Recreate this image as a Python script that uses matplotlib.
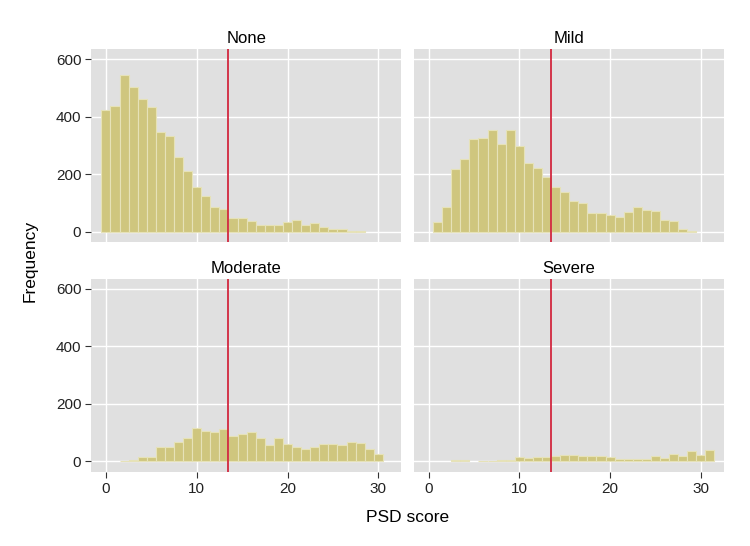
import matplotlib
matplotlib.use("Agg")
import matplotlib.pyplot as plt

plt.rcParams['font.family'] = ['Liberation Sans', 'DejaVu Sans']

# PSD score bins (width 1, centred on integers)
scores = list(range(0, 32))
groups = ["None", "Mild", "Moderate", "Severe"]
none = [421, 437, 543, 501, 462, 433, 346, 333, 258, 211, 155, 125, 86, 79, 48, 48,
        36, 24, 24, 24, 34, 41, 21, 30, 17, 7, 7, 3, 1, 0, 0, 0]
mild = [0, 34, 84, 216, 251, 322, 325, 353, 304, 353, 296, 239, 220, 189, 155, 137,
        106, 99, 66, 64, 56, 52, 68, 87, 75, 72, 41, 37, 8, 3, 0, 0]
moderate = [0, 0, 2, 4, 15, 15, 49, 49, 66, 80, 115, 106, 102, 112, 89, 94,
            103, 83, 56, 82, 60, 51, 43, 49, 61, 60, 57, 69, 64, 44, 27, 0]
severe = [0, 0, 0, 5, 5, 0, 3, 3, 4, 6, 14, 12, 16, 14, 17, 22,
          22, 17, 20, 19, 14, 8, 8, 8, 10, 17, 12, 26, 20, 37, 22, 40]
counts = [none, mild, moderate, severe]
cutoff = 13.5
xticks = [0, 10, 20, 30]
yticks = [0, 200, 400, 600]

fig, axes = plt.subplots(2, 2, figsize=(7.5, 5.46), dpi=100, sharex=True, sharey=True)
fig.subplots_adjust(left=0.1213, right=0.9653, top=0.9103, bottom=0.1355,
                    wspace=0.039, hspace=0.19)

for ax, name, c in zip(axes.flat, groups, counts):
    ax.set_facecolor("#e0e0e0")
    for s in ax.spines.values():
        s.set_visible(False)
    ax.set_axisbelow(True)
    ax.grid(True, color="white", linewidth=1.0)
    # empty bins are not drawn
    xs = [s for s, n in zip(scores, c) if n > 0]
    ns = [n for n in c if n > 0]
    ax.bar(xs, ns, width=1.0, color="#cfc67e", edgecolor="#e6e2b8",
           linewidth=0.8, zorder=2)
    ax.axvline(cutoff, color="#d2283f", linewidth=1.3, zorder=3)
    ax.set_title(name, fontsize=12, pad=4)
    ax.set_xticks(xticks)
    ax.set_yticks(yticks)
    ax.tick_params(length=4, width=0.8, color="#333333", labelsize=11,
                   labelcolor="#222222", pad=3)

axes[0, 0].set_xlim(-1.65, 32.55)
axes[0, 0].set_ylim(-37, 635)
for ax in axes[0]:
    ax.tick_params(axis="x", length=0)
for ax in axes[:, 1]:
    ax.tick_params(axis="y", length=0)

fig.text(0.543, 0.052, "PSD score", ha="center", va="center", fontsize=12.5)
fig.text(0.04, 0.523, "Frequency", ha="center", va="center", rotation=90, fontsize=12.5)

fig.savefig("out.png", dpi=100)
